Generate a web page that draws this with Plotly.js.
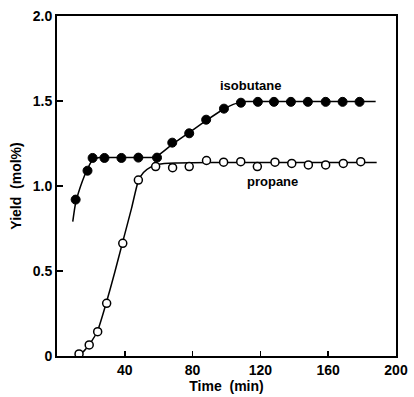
<!DOCTYPE html>
<html><head><meta charset="utf-8">
<script src="https://cdn.plot.ly/plotly-3.0.1.min.js"></script>
<style>html,body{margin:0;padding:0;background:#fff}#chart{width:414px;height:397px}</style>
</head><body><div id="chart"></div>
<script>
// Measured data points
const isoTime = [11, 18, 21, 28, 38, 48, 59, 68, 78, 88, 98.5, 108.5, 118.5, 128, 138, 148, 158.5, 168.5, 178.5];
const isoYield = [0.92, 1.09, 1.165, 1.165, 1.165, 1.167, 1.167, 1.255, 1.31, 1.39, 1.455, 1.49, 1.495, 1.495, 1.495, 1.495, 1.495, 1.495, 1.495];
const propTime = [13, 19, 24, 29.3, 38.8, 48, 58.2, 68.2, 78, 88.2, 98.3, 108.4, 118.2, 128.6, 138.5, 148.3, 158.5, 168.9, 179.2];
const propYield = [0.012, 0.065, 0.143, 0.31, 0.663, 1.035, 1.114, 1.108, 1.114, 1.15, 1.14, 1.143, 1.114, 1.14, 1.133, 1.124, 1.124, 1.133, 1.143];
// Hand-drawn fit curves
const isoFitTime = [9.3, 11, 15, 18, 21, 25, 30, 40, 50, 58, 68, 78, 88, 98, 104, 108, 112, 120, 140, 160, 188];
const isoFitYield = [0.79, 0.9, 1.03, 1.1, 1.155, 1.168, 1.168, 1.168, 1.168, 1.17, 1.245, 1.315, 1.385, 1.45, 1.48, 1.492, 1.497, 1.497, 1.497, 1.497, 1.497];
const propFitTime = [12, 16, 20, 24, 29, 34, 39, 44, 48, 51, 55, 60, 70, 90, 120, 150, 188.6];
const propFitYield = [0.0, 0.03, 0.08, 0.15, 0.31, 0.49, 0.68, 0.87, 1.03, 1.08, 1.11, 1.128, 1.135, 1.138, 1.138, 1.138, 1.138];
const xTicks = [40, 80, 120, 160, 200];
const yTicks = [0, 0.5, 1, 1.5, 2];
const yTickText = ["0", "0.5", "1.0", "1.5", "2.0"];
const seriesLabels = ["isobutane", "propane"];

const font = {family: "Liberation Sans, Arial, sans-serif", color: "#000", weight: "bold"};

const traces = [
  {x: isoFitTime, y: isoFitYield, mode: "lines", line: {color: "#000", width: 1.5, shape: "spline", smoothing: 0.6}, hoverinfo: "skip"},
  {x: propFitTime, y: propFitYield, mode: "lines", line: {color: "#000", width: 1.5, shape: "spline", smoothing: 0.6}, hoverinfo: "skip"},
  {x: isoTime, y: isoYield, mode: "markers", name: seriesLabels[0], marker: {symbol: "circle", size: 9, color: "#000", line: {color: "#000", width: 1}}},
  {x: propTime, y: propYield, mode: "markers", name: seriesLabels[1], marker: {symbol: "circle", size: 8, color: "#fff", line: {color: "#000", width: 1.5}}}
];

const layout = {
  width: 414, height: 397,
  margin: {l: 57, r: 18, t: 16, b: 41},
  paper_bgcolor: "#fff", plot_bgcolor: "#fff",
  showlegend: false,
  font: Object.assign({size: 13}, font),
  xaxis: {
    range: [0, 200], tickvals: xTicks, ticks: "inside", ticklen: 5, tickwidth: 1.5, tickcolor: "#000",
    showline: true, linecolor: "#000", linewidth: 2, mirror: true, showgrid: false, zeroline: false,
    tickfont: Object.assign({size: 14}, font),
    title: {text: "Time  (min)", font: Object.assign({size: 14}, font), standoff: 2}
  },
  yaxis: {
    range: [0, 2], tickvals: yTicks, ticktext: yTickText, ticks: "inside", ticklen: 6, tickwidth: 1.5, tickcolor: "#000",
    showline: true, linecolor: "#000", linewidth: 2, mirror: true, showgrid: false, zeroline: false,
    tickfont: Object.assign({size: 14}, font),
    title: {text: "Yield  (mol%)", font: Object.assign({size: 14}, font), standoff: 8}
  },
  annotations: [
    {x: 114, y: 1.59, text: seriesLabels[0], showarrow: false, font: Object.assign({size: 13}, font)},
    {x: 127, y: 1.025, text: seriesLabels[1], showarrow: false, font: Object.assign({size: 13}, font)}
  ]
};

Plotly.newPlot("chart", traces, layout, {displayModeBar: false, staticPlot: true});
</script>
</body></html>
